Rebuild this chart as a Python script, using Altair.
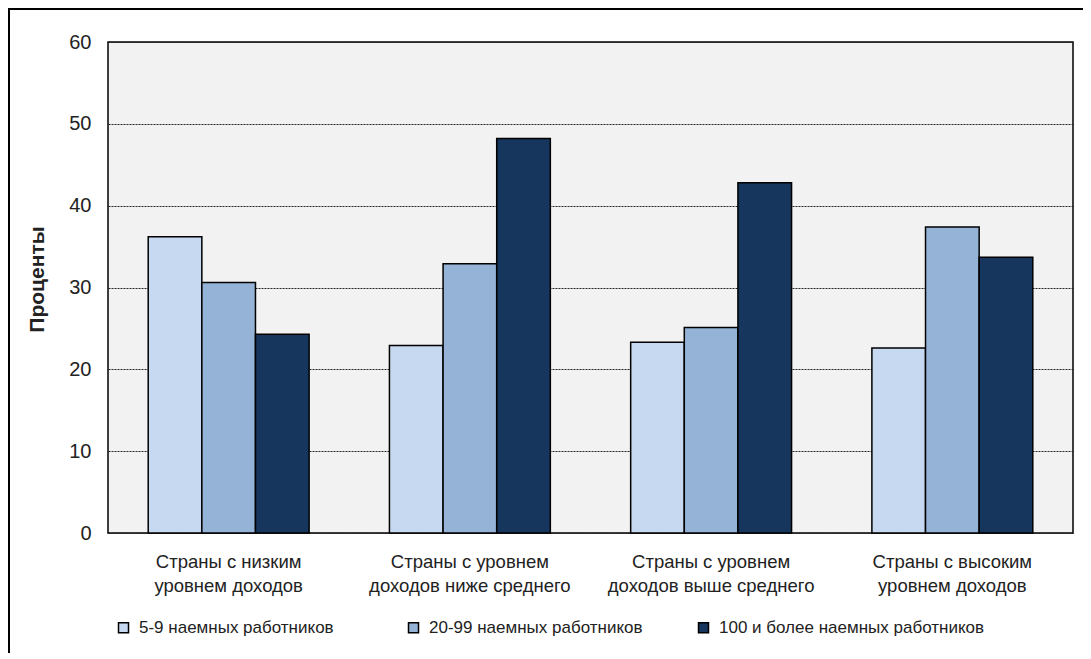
import altair as alt
import pandas as pd

categories = [
    "Страны с низким\nуровнем доходов",
    "Страны с уровнем\nдоходов ниже среднего",
    "Страны с уровнем\nдоходов выше среднего",
    "Страны с высоким\nуровнем доходов",
]
series = [
    "5-9 наемных работников",
    "20-99 наемных работников",
    "100 и более наемных работников",
]
s_small = [36.2, 22.9, 23.3, 22.6]
s_mid = [30.6, 32.9, 25.1, 37.4]
s_large = [24.3, 48.2, 42.8, 33.7]
colors = ["#c6d9f0", "#95b3d7", "#17365d"]

rows = []
for name, vals in zip(series, [s_small, s_mid, s_large]):
    for c, v in zip(categories, vals):
        rows.append({"cat": c, "series": name, "value": v})
df = pd.DataFrame(rows)

FONT = "Liberation Sans"

bars = alt.Chart(df).mark_bar(stroke="black", strokeWidth=1.5).encode(
    x=alt.X(
        "cat:N",
        sort=categories,
        scale=alt.Scale(paddingInner=0.333, paddingOuter=0.1667),
        axis=alt.Axis(
            title=None,
            labelAngle=0,
            labelExpr="split(datum.label, '\\n')",
            labelFontSize=18.5,
            labelLineHeight=24,
            labelPadding=19,
            labelColor="#222222",
            labelLimit=400,
            ticks=False,
            domain=False,
            labelFont=FONT,
        ),
    ),
    xOffset=alt.XOffset("series:N", sort=series, scale=alt.Scale(paddingInner=0, paddingOuter=0)),
    y=alt.Y(
        "value:Q",
        scale=alt.Scale(domain=[0, 60], nice=False),
        axis=alt.Axis(
            title="Проценты",
            values=[0, 10, 20, 30, 40, 50, 60],
            ticks=False,
            tickSize=0,
            domain=False,
            labelFontSize=20,
            labelPadding=17,
            labelColor="#222222",
            labelFont=FONT,
            titleFont=FONT,
            titleFontSize=21,
            titleFontWeight="bold",
            titleColor="#222222",
            titleAngle=-90,
            titleX=-71,
            titleY=237,
            titleAlign="center",
            titleBaseline="middle",
            grid=True,
            gridColor="#222222",
            gridDash=[2, 1],
            gridWidth=1,
        ),
    ),
    color=alt.Color(
        "series:N",
        sort=series,
        scale=alt.Scale(domain=series, range=colors),
        legend=alt.Legend(
            title=None,
            orient="none",
            legendX=7,
            legendY=577,
            direction="horizontal",
            columns=3,
            gridAlign="all",
            columnPadding=0,
            padding=0,
            symbolType="square",
            symbolSize=100,
            symbolStrokeColor="black",
            symbolStrokeWidth=1.5,
            labelFontSize=17,
            labelFont=FONT,
            labelColor="#222222",
            labelOffset=7,
            labelLimit=400,
        ),
    ),
)

left_border = alt.Chart(df).mark_rule(color="black", strokeWidth=2).encode(
    x=alt.value(-99), y=alt.value(-33), y2=alt.value(700)
)
top_border = alt.Chart(df).mark_rule(color="black", strokeWidth=2).encode(
    x=alt.value(-100), x2=alt.value(1100), y=alt.value(-33)
)

chart = alt.layer(bars, left_border, top_border).properties(
    width=965,
    height=491,
    background="white",
    autosize=alt.AutoSizeParams(type="none"),
    padding={"left": 100, "top": 34, "right": 10, "bottom": 120},
).configure_view(
    fill="#f2f2f2", stroke="black", strokeWidth=1.5
)

chart.save("out.html", embed_options={"renderer": "svg", "actions": False})
